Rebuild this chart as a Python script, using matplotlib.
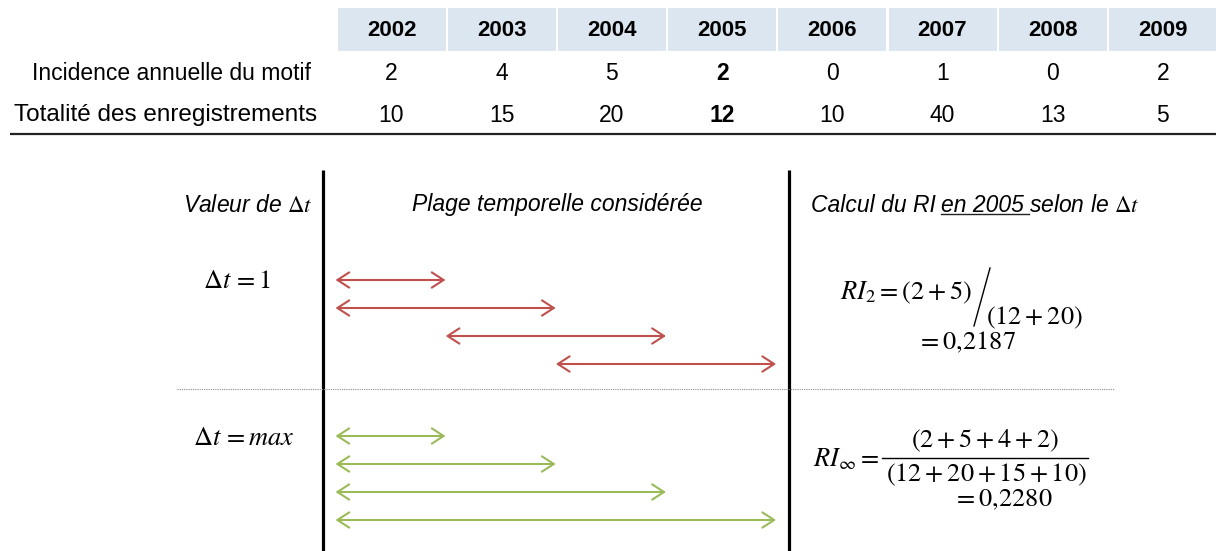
import matplotlib
matplotlib.use("Agg")
import matplotlib.pyplot as plt
from matplotlib.patches import Rectangle

plt.rcParams['font.family'] = ['Liberation Sans', 'DejaVu Sans']
plt.rcParams['mathtext.fontset'] = 'stix'

# Table data
years = [2002, 2003, 2004, 2005, 2006, 2007, 2008, 2009]
incidence = [2, 4, 5, 2, 0, 1, 0, 2]
totals = [10, 15, 20, 12, 10, 40, 13, 5]
row_labels = ["Incidence annuelle du motif", "Totalité des enregistrements"]
ref_year = 2005

# Time windows (first year, last year) drawn as arrows
windows_dt1 = [(2002, 2002), (2002, 2003), (2003, 2004), (2004, 2005)]
windows_dtmax = [(2002, 2002), (2002, 2003), (2002, 2004), (2002, 2005)]

RED = '#c0504d'
GREEN = '#9bbb59'
HEADER_BG = '#dce6f1'
MATH_FS = 19
HEAD_FS = 16.5

fig = plt.figure(figsize=(12.16, 5.51), dpi=100)
ax = fig.add_axes([0, 0, 1, 1])
ax.set_xlim(0, 1216)
ax.set_ylim(551, 0)
ax.axis('off')


def col_x(year):
    return 391.5 + (year - years[0]) * 110.2


# --- table ---
for i, yr in enumerate(years):
    cx = col_x(yr)
    ax.add_patch(Rectangle((cx - 54, 8), 108, 43, color=HEADER_BG, lw=0))
    ax.text(cx, 31, str(yr), ha='center', va='center', fontsize=16, fontweight='bold')
    w = 'bold' if yr == ref_year else 'normal'
    ax.text(cx, 73, str(incidence[i]), ha='center', va='center', fontsize=16.5, fontweight=w)
    ax.text(cx, 115, str(totals[i]), ha='center', va='center', fontsize=16.5, fontweight=w)

ax.text(172, 73, row_labels[0], ha='center', va='center', fontsize=16.5)
ax.text(166, 115, row_labels[1], ha='center', va='center', fontsize=17.5)
ax.plot([10, 1216], [134, 134], color='#222222', lw=1.6, solid_capstyle='butt')

# --- lower part ---
for xv in (323, 789):
    ax.plot([xv, xv], [170, 551], color='black', lw=2.3, solid_capstyle='butt')
ax.plot([177, 1114], [389, 389], color='#8c8c8c', lw=0.8, ls=(0, (1, 1)))

ax.text(248, 205, r"Valeur de $\Delta t$", ha='center', va='center', fontsize=HEAD_FS, style='italic')
ax.text(557, 205, "Plage temporelle considérée", ha='center', va='center', fontsize=HEAD_FS, style='italic')

# header with underlined part
fig.canvas.draw()
r = fig.canvas.get_renderer()
inv = ax.transData.inverted()
t1 = ax.text(811, 205, "Calcul du RI", ha='left', va='center', fontsize=HEAD_FS, style='italic')
x_end = inv.transform(t1.get_window_extent(r).get_points())[1][0]
t2 = ax.text(x_end + 5, 205, "en 2005", ha='left', va='center', fontsize=HEAD_FS, style='italic')
bb2 = inv.transform(t2.get_window_extent(r).get_points())
x2_end = bb2[1][0] + 5
ax.plot([x_end + 5, x2_end], [214, 214], color='#222222', lw=1.0)
ax.text(x2_end, 205, r"selon le $\Delta t$", ha='left', va='center', fontsize=HEAD_FS, style='italic')

ax.text(237, 281, r"$\Delta t\,=1$", ha='center', va='center', fontsize=MATH_FS)
ax.text(244, 438, r"$\Delta t\,=max$", ha='center', va='center', fontsize=MATH_FS)


def draw_windows(windows, y0, color):
    for k, (a, b) in enumerate(windows):
        y = y0 + k * 28
        ax.annotate('', xy=(col_x(b) + 54, y), xytext=(col_x(a) - 56, y),
                    arrowprops=dict(arrowstyle='<->, head_length=0.85, head_width=0.55',
                                    color=color, lw=1.5, shrinkA=0, shrinkB=0))


draw_windows(windows_dt1, 280, RED)
draw_windows(windows_dtmax, 436, GREEN)

# formulas
ax.text(840, 293, r"$RI_2=(2+5)$", ha='left', va='center', fontsize=MATH_FS)
ax.plot([990, 974], [268, 326], color='black', lw=1.0)
ax.text(986, 318, r"$(12+20)$", ha='left', va='center', fontsize=MATH_FS)
ax.text(917, 342, r"$=0{,}2187$", ha='left', va='center', fontsize=MATH_FS)

ax.text(813, 459, r"$RI_{\infty}=$", ha='left', va='center', fontsize=MATH_FS)
ax.text(985, 441, r"$(2+5+4+2)$", ha='center', va='center', fontsize=MATH_FS)
ax.plot([882, 1088], [458, 458], color='black', lw=1.0)
ax.text(986, 475, r"$(12+20+15+10)$", ha='center', va='center', fontsize=MATH_FS)
ax.text(953, 500, r"$=0{,}2280$", ha='left', va='center', fontsize=MATH_FS)

fig.savefig('out.png', dpi=100)
